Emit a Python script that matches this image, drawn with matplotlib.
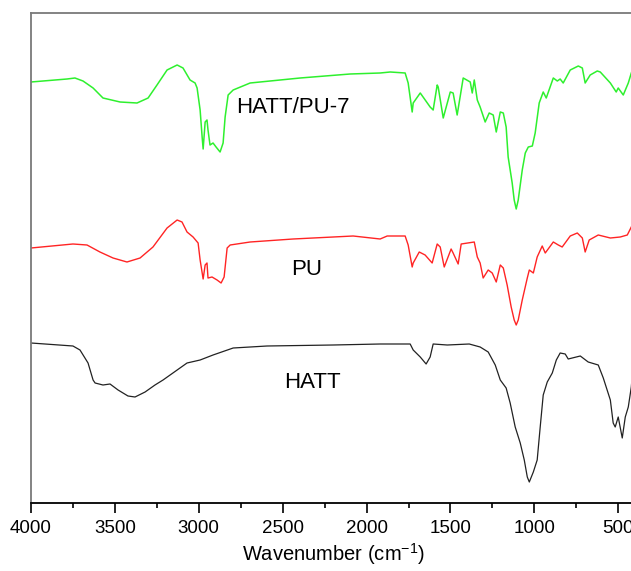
import numpy as np
import matplotlib.pyplot as plt
from matplotlib.ticker import MultipleLocator

plt.rcParams['font.family'] = ['Liberation Sans', 'DejaVu Sans']

# FTIR spectra, wavenumber (cm-1) and offset transmittance (a.u.)
wn_hattpu = [4000, 3785, 3738, 3690, 3630, 3571, 3469, 3368, 3302, 3249, 3189, 3129,
             3094, 3052, 3022, 3010, 2992, 2980, 2974, 2962, 2951, 2945, 2933, 2915,
             2897, 2873, 2855, 2843, 2825, 2795, 2694, 2396, 2098, 1919, 1859, 1770,
             1752, 1728, 1722, 1680, 1621, 1603, 1579, 1573, 1543, 1501, 1484, 1460,
             1424, 1382, 1370, 1358, 1340, 1323, 1293, 1269, 1245, 1227, 1203, 1185,
             1168, 1156, 1132, 1120, 1108, 1096, 1072, 1054, 1036, 1012, 995, 971,
             947, 929, 887, 863, 846, 828, 786, 738, 714, 697, 667, 625, 607, 547,
             512, 500, 470, 440, 422, 400]
t_hattpu = [421, 424, 425, 422, 415, 405, 401, 400, 405, 418, 433, 438,
            435, 423, 420, 415, 393, 366, 354, 381, 383, 373, 358, 360,
            356, 351, 360, 386, 408, 413, 420, 425, 429, 430, 431, 430,
            420, 391, 400, 410, 396, 393, 418, 416, 385, 411, 410, 388,
            425, 421, 410, 423, 403, 396, 381, 390, 388, 371, 391, 390,
            376, 346, 320, 303, 294, 303, 333, 350, 356, 357, 370, 400,
            411, 405, 425, 422, 424, 420, 433, 437, 435, 420, 428, 432, 431, 420,
            411, 415, 408, 420, 430, 440]

wn_pu = [4000, 3750, 3666, 3589, 3511, 3428, 3350, 3273, 3189, 3129, 3100, 3070,
         3034, 3004, 2992, 2974, 2962, 2951, 2945, 2921, 2891, 2867, 2849, 2831,
         2813, 2694, 2438, 2199, 2080, 1919, 1877, 1770, 1752, 1728, 1722, 1686,
         1651, 1609, 1579, 1561, 1537, 1496, 1484, 1454, 1436, 1358, 1340, 1323,
         1305, 1275, 1251, 1227, 1203, 1185, 1162, 1138, 1120, 1108, 1096, 1072,
         1042, 1030, 1006, 983, 953, 935, 887, 857, 834, 786, 744, 714, 697, 673,
         619, 547, 488, 446, 422, 400]
t_pu = [255, 259, 258, 251, 245, 241, 245, 256, 275, 283, 281, 271,
        266, 260, 243, 224, 238, 240, 225, 226, 223, 220, 226, 255,
        258, 261, 264, 266, 267, 264, 267, 267, 258, 236, 240, 251,
        248, 240, 259, 256, 236, 254, 250, 239, 259, 261, 246, 240,
        225, 233, 230, 221, 238, 235, 218, 196, 183, 178, 183, 203,
        225, 233, 230, 246, 257, 250, 261, 258, 256, 267, 270, 265, 251, 263,
        268, 265, 266, 268, 276, 285]

wn_hatt = [4000, 3750, 3708, 3660, 3630, 3618, 3571, 3529, 3481, 3422, 3380, 3320,
           3261, 3213, 3070, 2992, 2915, 2795, 2593, 2199, 1919, 1740, 1722, 1680,
           1645, 1621, 1603, 1519, 1388, 1323, 1275, 1233, 1203, 1168, 1144, 1114,
           1084, 1060, 1042, 1030, 1006, 983, 965, 947, 923, 893, 869, 846, 816,
           798, 726, 679, 619, 589, 547, 530, 518, 500, 476, 458, 440, 422, 400]
t_hatt = [160, 157, 153, 140, 123, 120, 118, 119, 113, 107, 106, 111,
          118, 123, 140, 143, 148, 155, 157, 158, 159, 159, 153, 146,
          139, 146, 159, 158, 159, 156, 151, 138, 123, 115, 100, 76,
          60, 43, 26, 21, 31, 43, 76, 108, 121, 130, 143, 150, 149,
          144, 147, 141, 138, 125, 103, 80, 76, 86, 65, 86, 96, 116, 160]

fig = plt.figure(figsize=(6.31, 5.71), dpi=100)
ax = fig.add_axes([31 / 631, 68 / 571, 604 / 631, 490.3 / 571])

ax.plot(wn_hattpu, t_hattpu, color='#2ef02e', lw=1.1)
ax.plot(wn_pu, t_pu, color='#ff2424', lw=1.0)
ax.plot(wn_hatt, t_hatt, color='#222222', lw=0.9)

ax.text(2440, 395, 'HATT/PU-7', fontsize=16, ha='center', va='center')
ax.text(2355, 233, 'PU', fontsize=16, ha='center', va='center')
ax.text(2320, 121, 'HATT', fontsize=16, ha='center', va='center')

ax.set_xlim(4000, 400)
ax.set_ylim(0, 490.3)
ax.xaxis.set_major_locator(MultipleLocator(500))
ax.xaxis.set_minor_locator(MultipleLocator(250))
ax.set_yticks([])
ax.tick_params(axis='x', which='major', direction='out', length=7, width=1.2,
               labelsize=13.5, pad=5)
ax.tick_params(axis='x', which='minor', direction='out', length=3.5, width=1.2)
ax.set_xlabel('Wavenumber (cm$^{\\mathregular{-1}}$)', fontsize=14.5, labelpad=3)

for side in ['left', 'top']:
    ax.spines[side].set_color('#7a7a7a')
    ax.spines[side].set_linewidth(1.3)
ax.spines['bottom'].set_linewidth(1.3)
ax.spines['right'].set_visible(False)

fig.savefig('out.png', dpi=100)
